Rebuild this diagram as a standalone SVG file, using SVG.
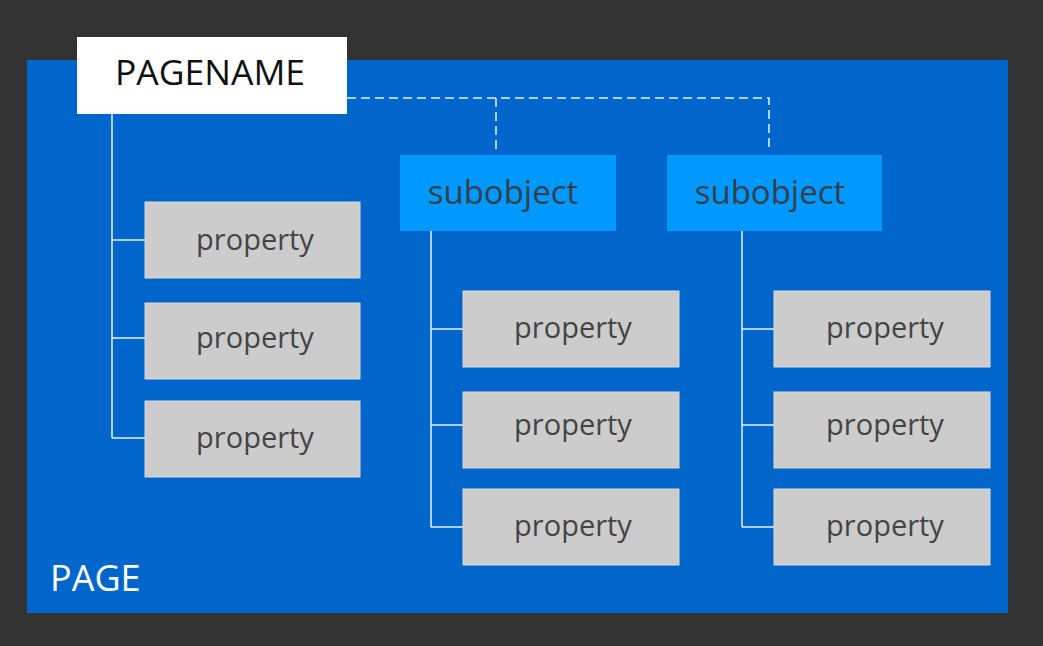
<svg xmlns="http://www.w3.org/2000/svg" width="1043" height="646" viewBox="0 0 1043 646">
<style>
.prop rect{fill:#cccccc;stroke:#d8d8d8;stroke-width:1}
.prop text{font-family:"Open Sans","Noto Sans",sans-serif;font-size:29px;fill:#444444;text-anchor:middle}
.sub rect{fill:#0099ff}
.sub text{font-family:"Open Sans","Noto Sans",sans-serif;font-size:33px;fill:#34404c;text-anchor:middle}
.ln{fill:none;stroke:#e6f2ff;stroke-width:1.5}
.dash{fill:none;stroke:#e6f2ff;stroke-width:1.5;stroke-dasharray:9,5}
</style>
<rect x="0" y="0" width="1043" height="646" fill="#333333"/>
<g id="page">
<rect x="27" y="60" width="981" height="553" fill="#0066cc"/>
<text x="50" y="591" font-family="'Open Sans','Noto Sans',sans-serif" font-size="36" fill="#ffffff">PAGE</text>
</g>
<g id="connectors">
<path class="ln" d="M112 114V438M112 240H145M112 338H145M112 438H145"/>
<path class="dash" d="M347 98H769V150M496 98V150"/>
<path class="ln" d="M431 231V527M431 329H463M431 425H463M431 527H463"/>
<path class="ln" d="M742 231V527M742 329H774M742 425H774M742 527H774"/>
</g>
<g id="pagename">
<rect x="77" y="37" width="270" height="77" fill="#ffffff"/>
<text x="210" y="85" font-family="'Open Sans','Noto Sans',sans-serif" font-size="35" fill="#111111" text-anchor="middle" textLength="190" lengthAdjust="spacingAndGlyphs">PAGENAME</text>
</g>
<g id="sub1" class="sub"><rect x="400" y="155" width="216" height="76"/><text x="503" y="204">subobject</text></g>
<g id="sub2" class="sub"><rect x="667" y="155" width="215" height="76"/><text x="770" y="204">subobject</text></g>
<g id="p1" class="prop"><rect x="145" y="202" width="215" height="76"/><text x="255" y="250">property</text></g>
<g id="p2" class="prop"><rect x="145" y="303" width="215" height="76"/><text x="255" y="348">property</text></g>
<g id="p3" class="prop"><rect x="145" y="401" width="215" height="76"/><text x="255" y="448">property</text></g>
<g id="p4" class="prop"><rect x="463" y="291" width="216" height="76"/><text x="573" y="338">property</text></g>
<g id="p5" class="prop"><rect x="463" y="392" width="216" height="76"/><text x="573" y="435">property</text></g>
<g id="p6" class="prop"><rect x="463" y="489" width="216" height="76"/><text x="573" y="536">property</text></g>
<g id="p7" class="prop"><rect x="774" y="291" width="216" height="76"/><text x="885" y="338">property</text></g>
<g id="p8" class="prop"><rect x="774" y="392" width="216" height="76"/><text x="885" y="435">property</text></g>
<g id="p9" class="prop"><rect x="774" y="489" width="216" height="76"/><text x="885" y="536">property</text></g>
</svg>
